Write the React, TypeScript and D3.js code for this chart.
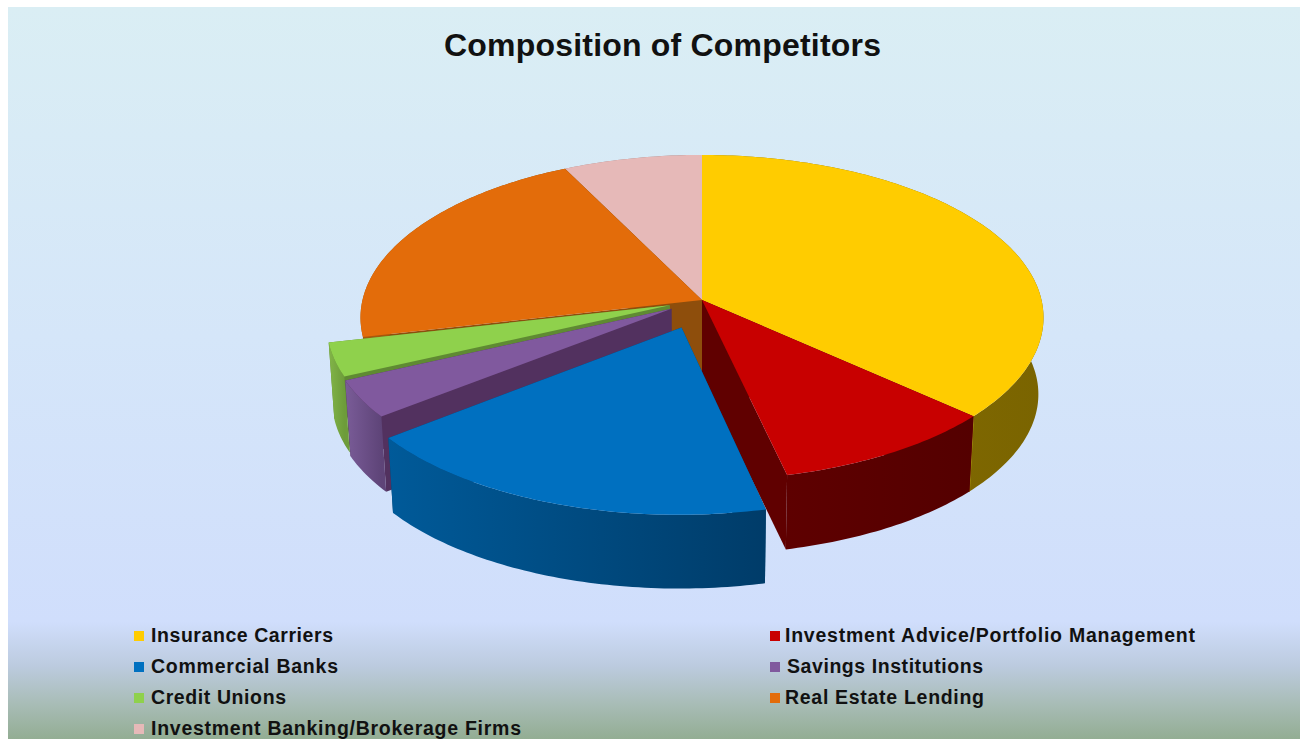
import React from "react";
import * as d3 from "d3";

// Share of competitors by segment, in percent, clockwise from twelve o'clock.
const categories = [
  "Insurance Carriers",
  "Investment Advice/Portfolio Management",
  "Commercial Banks",
  "Savings Institutions",
  "Credit Unions",
  "Real Estate Lending",
  "Investment Banking/Brokerage Firms",
];
const shares = [36.7, 9.7, 18.0, 3.7, 3.3, 21.3, 7.3];

// Radial pull of each slice, as a fraction of the radius.
const explosion = [0, 0, 0.178, 0.105, 0.1, 0, 0];

const topColors = ["#FFCC00", "#C80000", "#0070C0", "#80599E", "#8FD14C", "#E36C0A", "#E6B9B8"];
const wallDark = ["#7A6400", "#540000", "#003C69", "#5E4478", "#6D9C3A", "#8A4A0C", "#8F7372"];
const wallLight = ["#8A7003", "#5E0000", "#005A99", "#7A5C98", "#82B548", "#A85A0C", "#A98887"];
const faceColors = ["#8F7300", "#600000", "#00406E", "#52315F", "#5F8A33", "#8E4E0C", "#8F7372"];

// Back-to-front painting order of the slices.
const paintOrder = [6, 5, 0, 4, 3, 1, 2];

const legendRows = [
  { index: 0, x: 134, textX: 151, y: 636, width: 182 },
  { index: 1, x: 770, textX: 785, y: 636, width: 410 },
  { index: 2, x: 134, textX: 151, y: 667, width: 187 },
  { index: 3, x: 770, textX: 787, y: 667, width: 196 },
  { index: 4, x: 134, textX: 151, y: 698, width: 135 },
  { index: 5, x: 770, textX: 785, y: 698, width: 199 },
  { index: 6, x: 134, textX: 151, y: 729, width: 370 },
];

// Perspective disc
const cx = 702;
const cy = 300;
const radiusX = 339.5;
const radiusY = 160.7;
const perspective = 0.108;
const depth = 77;
const bottomScale = 0.985;

const pieLayout = d3
  .pie<number>()
  .sort(null)
  .value((d) => d)
  .startAngle(0)
  .endAngle(2 * Math.PI);

type Pt = [number, number];

function project(u: number, v: number, lower: boolean): Pt {
  const s = 1 / (1 - perspective * v);
  let x = radiusX * u * s;
  let y = radiusY * v * s;
  if (lower) {
    x *= bottomScale;
    y = y * bottomScale + depth;
  }
  return [cx + x, cy + y];
}

const line = d3.line<Pt>();

function sliceShapes(a0: number, a1: number, pull: number) {
  const mid = (a0 + a1) / 2;
  const du = pull * Math.sin(mid);
  const dv = -pull * Math.cos(mid);
  const steps = Math.max(8, Math.ceil((a1 - a0) * 60));
  const angles = d3.range(steps + 1).map((i) => a0 + ((a1 - a0) * i) / steps);
  const rim = (lower: boolean): Pt[] =>
    angles.map((a) => project(du + Math.sin(a), dv - Math.cos(a), lower));
  const apexTop = project(du, dv, false);
  const apexLow = project(du, dv, true);
  const rimTop = rim(false);
  const rimLow = rim(true);
  return {
    top: line([apexTop, ...rimTop]) + "Z",
    wall: line([...rimTop, ...[...rimLow].reverse()]) + "Z",
    faceStart: line([apexTop, rimTop[0], rimLow[0], apexLow]) + "Z",
    faceEnd: line([apexTop, rimTop[steps], rimLow[steps], apexLow]) + "Z",
    seam: line([rimTop[steps], rimLow[steps]]) as string,
    xMin: d3.min(rimTop, (p) => p[0]) as number,
    xMax: d3.max(rimTop, (p) => p[0]) as number,
  };
}

export default function App() {
  const arcs = pieLayout(shares);
  return (
    <svg
      width={1300}
      height={739}
      style={{ position: "absolute", left: 0, top: 0, display: "block", background: "#fff" }}
    >
      <defs>
        <linearGradient id="backdrop" x1="0" y1="0" x2="0" y2="1">
          <stop offset="0" stopColor="#DAEEF4" />
          <stop offset="0.45" stopColor="#D5E6F9" />
          <stop offset="0.84" stopColor="#D0DEFC" />
          <stop offset="0.9" stopColor="#BCCBDF" />
          <stop offset="0.95" stopColor="#A9BDB8" />
          <stop offset="1" stopColor="#93AD93" />
        </linearGradient>
        {arcs.map((a, i) => {
          const s = sliceShapes(a.startAngle, a.endAngle, explosion[i]);
          return (
            <linearGradient
              key={i}
              id={`wall-${i}`}
              gradientUnits="userSpaceOnUse"
              x1={s.xMin}
              x2={s.xMax}
              y1={0}
              y2={0}
            >
              <stop offset="0" stopColor={wallLight[i]} />
              <stop offset="1" stopColor={wallDark[i]} />
            </linearGradient>
          );
        })}
      </defs>
      <rect x={8} y={7} width={1292} height={732} fill="url(#backdrop)" />
      <text
        x={444}
        y={56}
        textLength={437}
        lengthAdjust="spacing"
        fontFamily="'Liberation Sans', Arial, sans-serif"
        fontWeight="bold"
        fontSize={32}
        fill="#111"
      >
        Composition of Competitors
      </text>
      {paintOrder.map((i) => {
        const a = arcs[i];
        const s = sliceShapes(a.startAngle, a.endAngle, explosion[i]);
        return (
          <g key={i}>
            <path d={s.faceStart} fill={faceColors[i]} />
            <path d={s.faceEnd} fill={faceColors[i]} />
            <path d={s.wall} fill={`url(#wall-${i})`} />
            {i === 0 && <path d={s.seam} fill="none" stroke="#B09A10" strokeWidth={1} />}
            <path d={s.top} fill={topColors[i]} />
          </g>
        );
      })}
      {legendRows.map((r) => (
        <g key={r.index}>
          <rect x={r.x} y={r.y - 5} width={10} height={10} fill={topColors[r.index]} />
          <text
            x={r.textX}
            y={r.y + 6}
            textLength={r.width}
            lengthAdjust="spacing"
            fontFamily="'Liberation Sans', Arial, sans-serif"
            fontWeight="bold"
            fontSize={19.5}
            fill="#111"
          >
            {categories[r.index]}
          </text>
        </g>
      ))}
    </svg>
  );
}
